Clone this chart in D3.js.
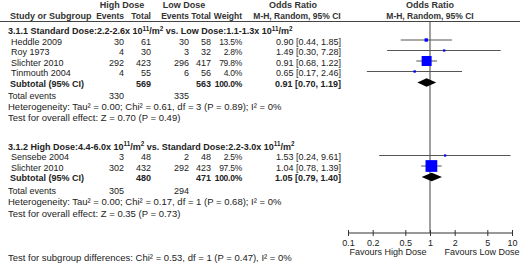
<!DOCTYPE html>
<html><head><meta charset="utf-8">
<script src="https://cdn.jsdelivr.net/npm/d3@7"></script>
<style>
html,body{margin:0;padding:0;background:#fff;}
svg{display:block;font-family:"Liberation Sans",Arial,sans-serif;}
</style></head>
<body><svg id="c" width="520" height="263"></svg>
<script>
// ---- data ----
const studies1 = ["Heddle 2009","Roy 1973","Slichter 2010","Tinmouth 2004"];
const highEvents1 = [30,4,292,4];
const highTotal1 = [61,30,423,55];
const lowEvents1 = [30,3,296,6];
const lowTotal1 = [58,32,417,56];
const weight1 = [13.5,2.8,79.8,4.0];
const or1 = [0.90,1.49,0.91,0.65];
const lo1 = [0.44,0.30,0.68,0.17];
const hi1 = [1.85,7.28,1.22,2.46];
const subtotal1 = {highTotal:569, lowTotal:563, weight:100.0, or:0.91, lo:0.70, hi:1.19, highEv:330, lowEv:335};
const het1 = "Heterogeneity: Tau² = 0.00; Chi² = 0.61, df = 3 (P = 0.89); I² = 0%";
const eff1 = "Test for overall effect: Z = 0.70 (P = 0.49)";

const studies2 = ["Sensebe 2004","Slichter 2010"];
const highEvents2 = [3,302];
const highTotal2 = [48,432];
const lowEvents2 = [2,292];
const lowTotal2 = [48,423];
const weight2 = [2.5,97.5];
const or2 = [1.53,1.04];
const lo2 = [0.24,0.78];
const hi2 = [9.61,1.39];
const subtotal2 = {highTotal:480, lowTotal:471, weight:100.0, or:1.05, lo:0.79, hi:1.40, highEv:305, lowEv:294};
const het2 = "Heterogeneity: Tau² = 0.00; Chi² = 0.17, df = 1 (P = 0.68); I² = 0%";
const eff2 = "Test for overall effect: Z = 0.35 (P = 0.73)";

const tickValues = [0.1,0.2,0.5,1,2,5,10];
const tickLabels = ["0.1","0.2","0.5","1","2","5","10"];
const subgroupTest = "Test for subgroup differences: Chi² = 0.53, df = 1 (P = 0.47), I² = 0%";

// ---- drawing ----
const svg = d3.select("#c");
const FS = 9.5;
const NFS = 9;
const HFS = 8.5;
const TXT = "#222";
const x = d3.scaleLog().domain([0.1,10]).range([348,512]);
const sq = d3.scaleLinear().domain([0,100]).range([2,12]);
const col = {name:8, hEv:124, hTot:151, lEv:189, lTot:211, w:242, or:341};

function text(xp, y, s, opt={}) {
  const t = svg.append("text").attr("x", xp).attr("y", y + 3.3)
    .attr("font-size", opt.fs || FS).attr("fill", opt.fill || TXT)
    .attr("text-anchor", opt.anchor || "start")
    .attr("font-weight", opt.bold ? "bold" : "normal")
    .text(s);
  if (opt.ls) t.attr("letter-spacing", opt.ls);
  return t;
}
function num(xp, y, s, bold) { return text(xp, y, s, {anchor:"end", fs:NFS, bold:bold}); }
function wnum(y, s, bold) { return text(col.w, y, s, {anchor:"end", fs:8.5, bold:bold, ls:-0.25}); }
function fmt2(v){return v.toFixed(2);}
function orText(o,l,h){return `${fmt2(o)} [${fmt2(l)}, ${fmt2(h)}]`;}

// header
const HC = "#333";
text(122, 5, "High Dose", {anchor:"middle", bold:true, fill:HC, fs:NFS});
text(184, 5, "Low Dose", {anchor:"middle", bold:true, fill:HC, fs:NFS});
text(293, 5, "Odds Ratio", {anchor:"middle", bold:true, fill:HC, fs:NFS});
text(430, 5, "Odds Ratio", {anchor:"middle", bold:true, fill:HC, fs:NFS});
text(col.name+2, 16, "Study or Subgroup", {bold:true, fill:HC, fs:NFS});
text(col.hEv, 16, "Events", {anchor:"end", bold:true, fill:HC, fs:HFS});
text(col.hTot, 16, "Total", {anchor:"end", bold:true, fill:HC, fs:HFS});
text(col.lEv, 16, "Events", {anchor:"end", bold:true, fill:HC, fs:HFS});
text(col.lTot, 16, "Total", {anchor:"end", bold:true, fill:HC, fs:HFS});
text(col.w, 16, "Weight", {anchor:"end", bold:true, fill:HC, fs:HFS});
text(297, 16, "M-H, Random, 95% CI", {anchor:"middle", bold:true, fill:HC, fs:HFS});
text(430, 16, "M-H, Random, 95% CI", {anchor:"middle", bold:true, fill:HC, fs:HFS});
svg.append("line").attr("x1",0).attr("x2",520).attr("y1",21.5).attr("y2",21.5)
  .attr("stroke","#444").attr("stroke-width",1);

// vertical line at OR=1
svg.append("line").attr("x1",x(1)).attr("x2",x(1)).attr("y1",22).attr("y2",233)
  .attr("stroke","#888").attr("stroke-width",1.6);

function headerText(y, parts) {
  const t = svg.append("text").attr("x", col.name).attr("y", y+3.3)
    .attr("font-size", NFS).attr("font-weight","bold").attr("fill",TXT);
  parts.forEach(p => {
    if (p.sup) t.append("tspan").attr("font-size", NFS*0.7).attr("dy", -3.5).text(p.s);
    else t.append("tspan").attr("dy", p.down ? 3.5 : 0).text(p.s);
  });
}

function section(y0, headerParts, studies, hE, hT, lE, lT, w, or, lo, hi, sub, het, eff, spacing) {
  headerText(y0, headerParts);
  const rowH = 10.5;
  studies.forEach((s,i) => {
    const y = y0 + 10.5 + i*rowH;
    text(col.name+3, y, s, {fs:NFS});
    num(col.hEv, y, hE[i]);
    num(col.hTot, y, hT[i]);
    num(col.lEv, y, lE[i]);
    num(col.lTot, y, lT[i]);
    wnum(y, w[i].toFixed(1)+"%");
    num(col.or, y, orText(or[i],lo[i],hi[i]));
    const my = y - 1.5;
    svg.append("line").attr("x1", x(Math.max(lo[i],0.1))).attr("x2", x(Math.min(hi[i],10)))
      .attr("y1", my).attr("y2", my).attr("stroke","#555").attr("stroke-width",1);
    const s2 = sq(w[i]);
    svg.append("rect").attr("x", x(or[i]) - s2/2).attr("y", my - s2/2)
      .attr("width", s2).attr("height", s2).attr("fill","#0000ff");
  });
  const ys = y0 + 10.5 + studies.length*rowH;
  text(col.name+2, ys, "Subtotal (95% CI)", {bold:true, fs:NFS});
  num(col.hTot, ys, sub.highTotal, true);
  num(col.lTot, ys, sub.lowTotal, true);
  wnum(ys, sub.weight.toFixed(1)+"%", true);
  num(col.or, ys, orText(sub.or, sub.lo, sub.hi), true);
  const dy = ys - 1;
  const dh = 4.2;
  svg.append("path").attr("d", `M${x(sub.lo)},${dy} L${x(sub.or)},${dy-dh} L${x(sub.hi)},${dy} L${x(sub.or)},${dy+dh} Z`)
    .attr("fill","#000");
  const yt = ys + 12.5;
  text(col.name, yt, "Total events", {fs:NFS});
  num(col.hEv, yt, sub.highEv);
  num(col.lEv, yt, sub.lowEv);
  text(col.name, yt + 10.8, het);
  text(col.name, yt + 10.8 + spacing, eff);
}

section(31, [{s:"3.1.1 Standard Dose:2.2-2.6x 10"},{s:"11",sup:true},{s:"/m",down:true},{s:"2",sup:true},
             {s:" vs. Low Dose:1.1-1.3x 10",down:true},{s:"11",sup:true},{s:"/m",down:true},{s:"2",sup:true}],
  studies1, highEvents1, highTotal1, lowEvents1, lowTotal1, weight1, or1, lo1, hi1, subtotal1, het1, eff1, 11);
section(146.5, [{s:"3.1.2 High Dose:4.4-6.0x 10"},{s:"11",sup:true},{s:"/m",down:true},{s:"2",sup:true},
             {s:" vs. Standard Dose:2.2-3.0x 10",down:true},{s:"11",sup:true},{s:"/m",down:true},{s:"2",sup:true}],
  studies2, highEvents2, highTotal2, lowEvents2, lowTotal2, weight2, or2, lo2, hi2, subtotal2, het2, eff2, 12);

// axis
const ax = d3.axisBottom(x).tickValues(tickValues).tickFormat((d,i)=>tickLabels[i]).tickSize(3).tickSizeOuter(0);
const g = svg.append("g").attr("transform","translate(0,233)").call(ax);
g.select(".domain").attr("stroke","#333").attr("d", `M${x(0.1)},0H${x(10)}`);
g.selectAll(".tick line").attr("stroke","#333").attr("y1",-3).attr("y2",3);
g.selectAll(".tick text").attr("font-size",NFS).attr("fill",TXT).attr("dy",0).attr("y",13)
  .attr("font-family","Liberation Sans, Arial, sans-serif");
text(388, 252, "Favours High Dose", {anchor:"middle", fs:NFS});
text(482, 252, "Favours Low Dose", {anchor:"middle", fs:NFS});

text(col.name, 258, subgroupTest, {fs:FS});
</script></body></html>
